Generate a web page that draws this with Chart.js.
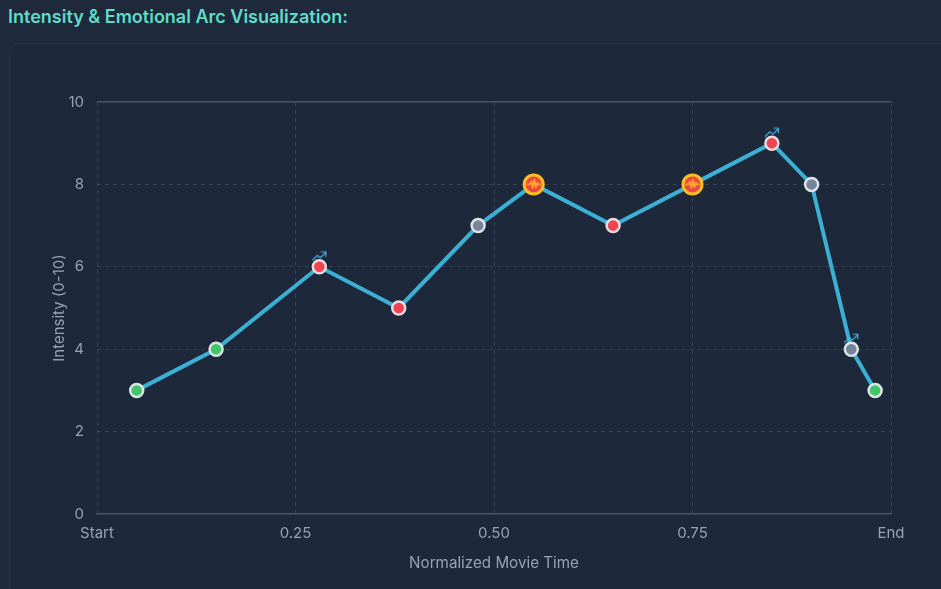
<!DOCTYPE html>
<html><head><meta charset="utf-8">
<script src="https://cdn.jsdelivr.net/npm/chart.js@4/dist/chart.umd.min.js"></script>
<style>
html,body{margin:0;padding:0;background:#1e293b;width:941px;height:589px;overflow:hidden;font-family:Inter,sans-serif}
#title{position:absolute;left:8px;top:7px;font:600 18px/20px Inter,sans-serif;color:#5fdcc8;white-space:nowrap}
#card{position:absolute;left:9px;top:43px;width:960px;height:600px;border:1px solid #263248;border-radius:10px;background:#1d283a;box-sizing:border-box}
#wrap{position:absolute;left:0;top:0;width:941px;height:589px}
</style></head><body>
<div id="title">Intensity &amp; Emotional Arc Visualization:</div>
<div id="card"></div>
<div id="wrap"><canvas id="c" width="941" height="589"></canvas></div>
<script>
const times=[0.05,0.15,0.28,0.38,0.48,0.55,0.65,0.75,0.85,0.90,0.95,0.98];
const intensity=[3,4,6,5,7,8,7,8,9,8,4,3];
const kinds=['green','green','red','red','grey','gold','red','gold','red','grey','grey','green'];
const arrowFlags=[0,0,1,0,0,0,0,0,1,0,1,0];
const xTickLabels={0:'Start',0.25:'0.25',0.5:'0.50',0.75:'0.75',1:'End'};
const yTicks=[0,2,4,6,8,10];
const fills={green:'#3ec764',red:'#ef4450',grey:'#768399',gold:'#ef4444'};
const borders={green:'#dbe3e6',red:'#e6dbe0',grey:'#dbe3e6',gold:'#fbbf24'};

function burst(){const s=document.createElement('canvas');s.width=s.height=16;const g=s.getContext('2d');
 g.strokeStyle='#fbbf24';g.lineWidth=1.4;g.lineJoin='round';g.beginPath();
 g.moveTo(1,8);g.lineTo(4,8);g.lineTo(5.5,5);g.lineTo(7,11.5);g.lineTo(8.5,3);g.lineTo(10,11);g.lineTo(11.5,6);g.lineTo(12.5,8);g.lineTo(15,8);g.stroke();return s;}
function arrow(){const s=document.createElement('canvas');s.width=18;s.height=34;const g=s.getContext('2d');
 g.strokeStyle='#4ab8f0';g.lineWidth=1.1;g.beginPath();
 g.moveTo(2,10.5);g.lineTo(7,5.5);g.lineTo(10,8);g.lineTo(15,3);g.moveTo(10.5,2);g.lineTo(15.5,2);g.lineTo(15.5,7);g.stroke();return s;}
const burstImg=burst(),arrowImg=arrow();
const pts=times.map((x,i)=>({x,y:intensity[i]}));

new Chart(document.getElementById('c'),{
 type:'line',
 data:{datasets:[
  {data:pts.filter((p,i)=>arrowFlags[i]),showLine:false,pointStyle:arrowImg,pointRadius:8,order:0},
  {data:pts.filter((p,i)=>kinds[i]==='gold'),showLine:false,pointStyle:burstImg,pointRadius:8,order:1},
  {data:pts,borderColor:'#3cb0d4',borderWidth:4,tension:0,order:2,
   pointBackgroundColor:kinds.map(k=>fills[k]),
   pointBorderColor:kinds.map(k=>borders[k]),
   pointBorderWidth:kinds.map(k=>k==='gold'?3:2.5),
   pointRadius:kinds.map(k=>k==='gold'?9.5:6.5),
   pointHoverRadius:kinds.map(k=>k==='gold'?9.5:6.5)}
 ]},
 options:{responsive:false,animation:false,
  layout:{padding:{left:0,right:50,top:102,bottom:0}},
  plugins:{legend:{display:false},tooltip:{enabled:false}},
  scales:{
   x:{type:'linear',min:0,max:1,
    afterFit(s){s.height=75;},
    ticks:{stepSize:0.25,color:'#94a3b8',font:{family:'Inter',size:15},maxRotation:0,padding:10,callback:v=>xTickLabels[v]},
    border:{display:true,color:'#475569',width:1.5,dash:[4,4]},
    grid:{color:'rgba(148,163,184,0.22)',drawTicks:false},
    title:{display:true,text:'Normalized Movie Time',color:'#94a3b8',font:{family:'Inter',size:15.2},padding:{top:13,bottom:16}}},
   y:{min:0,max:10,
    afterFit(s){s.width=97;},
    afterBuildTicks(s){s.ticks=yTicks.map(value=>({value}));},
    ticks:{color:'#94a3b8',font:{family:'Inter',size:15},padding:13},
    border:{display:false,dash:c=>c.tick&&c.tick.value===10?[]:[4,4]},
    grid:{color:c=>c.tick.value===10?'#475569':c.tick.value===0?'transparent':'rgba(148,163,184,0.22)',lineWidth:c=>c.tick.value===10?1.5:1,drawTicks:false},
    title:{display:true,text:'Intensity (0-10)',color:'#94a3b8',font:{family:'Inter',size:15},padding:{top:50,bottom:0}}}
  }
 }
});
</script></body></html>
